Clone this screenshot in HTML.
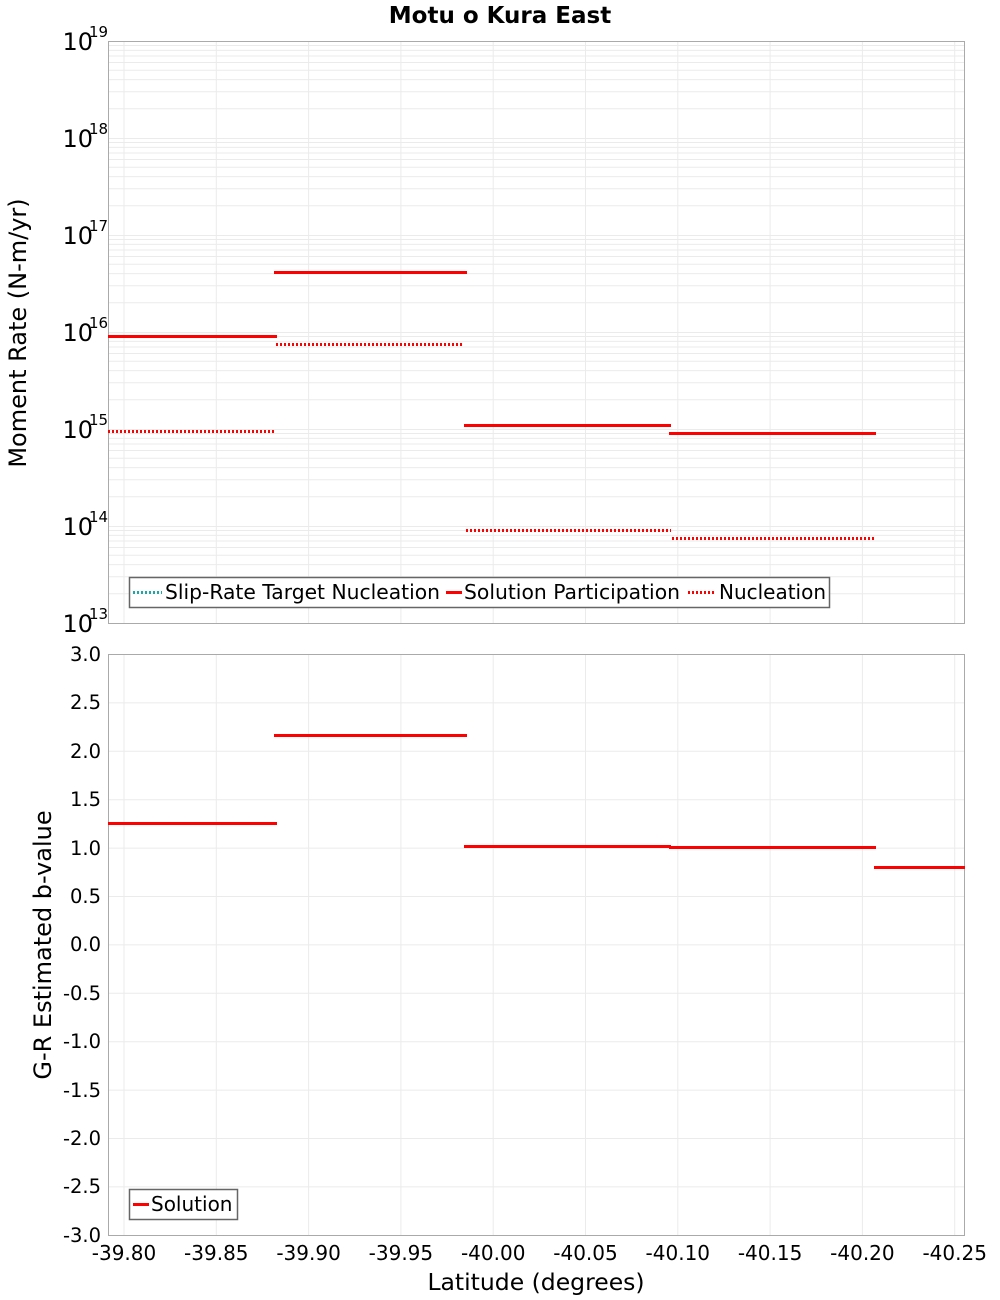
<!DOCTYPE html>
<html><head><meta charset="utf-8"><style>
html,body{margin:0;padding:0;background:#fff;}
svg{display:block;font-family:"DejaVu Sans","Liberation Sans",sans-serif;}
</style></head><body>
<svg width="1000" height="1300" viewBox="0 0 1000 1300" xmlns="http://www.w3.org/2000/svg">
<defs>
<pattern id="lg" patternUnits="userSpaceOnUse" x="0" y="41" width="1000" height="97">
<g stroke="#ebebeb" stroke-width="1">
<line x1="0" x2="1000" y1="0.5" y2="0.5"/>
<line x1="0" x2="1000" y1="67.8" y2="67.8"/>
<line x1="0" x2="1000" y1="50.7" y2="50.7"/>
<line x1="0" x2="1000" y1="38.6" y2="38.6"/>
<line x1="0" x2="1000" y1="29.2" y2="29.2"/>
<line x1="0" x2="1000" y1="21.5" y2="21.5"/>
<line x1="0" x2="1000" y1="15" y2="15"/>
<line x1="0" x2="1000" y1="9.4" y2="9.4"/>
<line x1="0" x2="1000" y1="4.5" y2="4.5"/>
</g>
</pattern>
</defs>
<text x="500" y="23" text-anchor="middle" font-size="23" font-weight="bold">Motu o Kura East</text>

<!-- TOP PLOT -->
<rect x="108.5" y="41.5" width="856" height="582" fill="url(#lg)"/>
<g stroke="#ebebeb" stroke-width="1">
<line x1="124" x2="124" y1="41" y2="623"/><line x1="216.3" x2="216.3" y1="41" y2="623"/>
<line x1="308.6" x2="308.6" y1="41" y2="623"/><line x1="400.9" x2="400.9" y1="41" y2="623"/>
<line x1="493.2" x2="493.2" y1="41" y2="623"/><line x1="585.5" x2="585.5" y1="41" y2="623"/>
<line x1="677.8" x2="677.8" y1="41" y2="623"/><line x1="770.1" x2="770.1" y1="41" y2="623"/>
<line x1="862.4" x2="862.4" y1="41" y2="623"/><line x1="954.7" x2="954.7" y1="41" y2="623"/>
</g>
<rect x="108.5" y="41.5" width="856" height="582" fill="none" stroke="#aaa" stroke-width="1"/>
<g stroke="#ff0000" stroke-width="3">
<line x1="108" x2="277" y1="336.5" y2="336.5"/>
<line x1="274" x2="467" y1="272.5" y2="272.5"/>
<line x1="464" x2="671" y1="425.5" y2="425.5"/>
<line x1="669" x2="876" y1="433.5" y2="433.5"/>
</g>
<g stroke="#ff0000" stroke-width="3" stroke-dasharray="2,2">
<line x1="108" x2="274" y1="431.5" y2="431.5"/>
<line x1="276" x2="464" y1="344.5" y2="344.5"/>
<line x1="466" x2="671" y1="530.5" y2="530.5"/>
<line x1="672" x2="876" y1="538.5" y2="538.5"/>
</g>
<g font-size="24" text-anchor="end">
<text x="93" y="50">10</text><text x="93" y="147">10</text><text x="93" y="244">10</text>
<text x="93" y="341">10</text><text x="93" y="438">10</text><text x="93" y="535">10</text><text x="93" y="632">10</text>
</g>
<g font-size="15">
<text x="89" y="37">19</text><text x="89" y="134">18</text><text x="89" y="231">17</text>
<text x="89" y="328">16</text><text x="89" y="425">15</text><text x="89" y="522">14</text><text x="89" y="619">13</text>
</g>
<text transform="translate(26,333) rotate(-90)" text-anchor="middle" font-size="24">Moment Rate (N-m/yr)</text>
<rect x="129.5" y="577.5" width="700" height="30" fill="#fff" stroke="#666" stroke-width="1.5"/>
<line x1="133" x2="162" y1="592.5" y2="592.5" stroke="#1aa8a8" stroke-width="3" stroke-dasharray="2,2"/>
<text x="165" y="599" font-size="20" textLength="275" lengthAdjust="spacingAndGlyphs">Slip-Rate Target Nucleation</text>
<line x1="446" x2="462" y1="592.5" y2="592.5" stroke="#f00" stroke-width="3"/>
<text x="464" y="599" font-size="20" textLength="216" lengthAdjust="spacingAndGlyphs">Solution Participation</text>
<line x1="688" x2="716" y1="592.5" y2="592.5" stroke="#f00" stroke-width="3" stroke-dasharray="2,2"/>
<text x="719" y="599" font-size="20" textLength="107" lengthAdjust="spacingAndGlyphs">Nucleation</text>

<!-- BOTTOM PLOT -->
<g stroke="#ebebeb" stroke-width="1">
<line x1="124" x2="124" y1="654" y2="1235"/><line x1="216.3" x2="216.3" y1="654" y2="1235"/>
<line x1="308.6" x2="308.6" y1="654" y2="1235"/><line x1="400.9" x2="400.9" y1="654" y2="1235"/>
<line x1="493.2" x2="493.2" y1="654" y2="1235"/><line x1="585.5" x2="585.5" y1="654" y2="1235"/>
<line x1="677.8" x2="677.8" y1="654" y2="1235"/><line x1="770.1" x2="770.1" y1="654" y2="1235"/>
<line x1="862.4" x2="862.4" y1="654" y2="1235"/><line x1="954.7" x2="954.7" y1="654" y2="1235"/>
<line x1="108" x2="965" y1="702.9" y2="702.9"/><line x1="108" x2="965" y1="751.3" y2="751.3"/>
<line x1="108" x2="965" y1="799.7" y2="799.7"/><line x1="108" x2="965" y1="848.1" y2="848.1"/>
<line x1="108" x2="965" y1="896.5" y2="896.5"/><line x1="108" x2="965" y1="944.9" y2="944.9"/>
<line x1="108" x2="965" y1="993.3" y2="993.3"/><line x1="108" x2="965" y1="1041.7" y2="1041.7"/>
<line x1="108" x2="965" y1="1090.1" y2="1090.1"/><line x1="108" x2="965" y1="1138.5" y2="1138.5"/>
<line x1="108" x2="965" y1="1186.9" y2="1186.9"/>
</g>
<rect x="108.5" y="654.5" width="856" height="581" fill="none" stroke="#aaa" stroke-width="1"/>
<g stroke="#ff0000" stroke-width="3">
<line x1="108" x2="277" y1="823.5" y2="823.5"/>
<line x1="274" x2="467" y1="735.5" y2="735.5"/>
<line x1="464" x2="671" y1="846.5" y2="846.5"/>
<line x1="669" x2="876" y1="847.5" y2="847.5"/>
<line x1="874" x2="965" y1="867.5" y2="867.5"/>
</g>
<g font-size="19.5" text-anchor="end">
<text x="101" y="661">3.0</text><text x="101" y="709">2.5</text><text x="101" y="758">2.0</text>
<text x="101" y="806">1.5</text><text x="101" y="855">1.0</text><text x="101" y="903">0.5</text>
<text x="101" y="951">0.0</text><text x="101" y="1000">-0.5</text><text x="101" y="1048">-1.0</text>
<text x="101" y="1097">-1.5</text><text x="101" y="1145">-2.0</text><text x="101" y="1193">-2.5</text>
<text x="101" y="1242">-3.0</text>
</g>
<text transform="translate(51,945) rotate(-90)" text-anchor="middle" font-size="24">G-R Estimated b-value</text>
<rect x="129.5" y="1189.5" width="108" height="30" fill="#fff" stroke="#666" stroke-width="1.5"/>
<line x1="133" x2="149" y1="1204.5" y2="1204.5" stroke="#f00" stroke-width="3"/>
<text x="151" y="1211" font-size="20">Solution</text>
<g font-size="20" text-anchor="middle">
<text x="124" y="1260">-39.80</text><text x="216.3" y="1260">-39.85</text><text x="308.6" y="1260">-39.90</text>
<text x="400.9" y="1260">-39.95</text><text x="493.2" y="1260">-40.00</text><text x="585.5" y="1260">-40.05</text>
<text x="677.8" y="1260">-40.10</text><text x="770.1" y="1260">-40.15</text><text x="862.4" y="1260">-40.20</text>
<text x="954.7" y="1260">-40.25</text>
</g>
<text x="536" y="1290" text-anchor="middle" font-size="23.5">Latitude (degrees)</text>
</svg>
</body></html>
